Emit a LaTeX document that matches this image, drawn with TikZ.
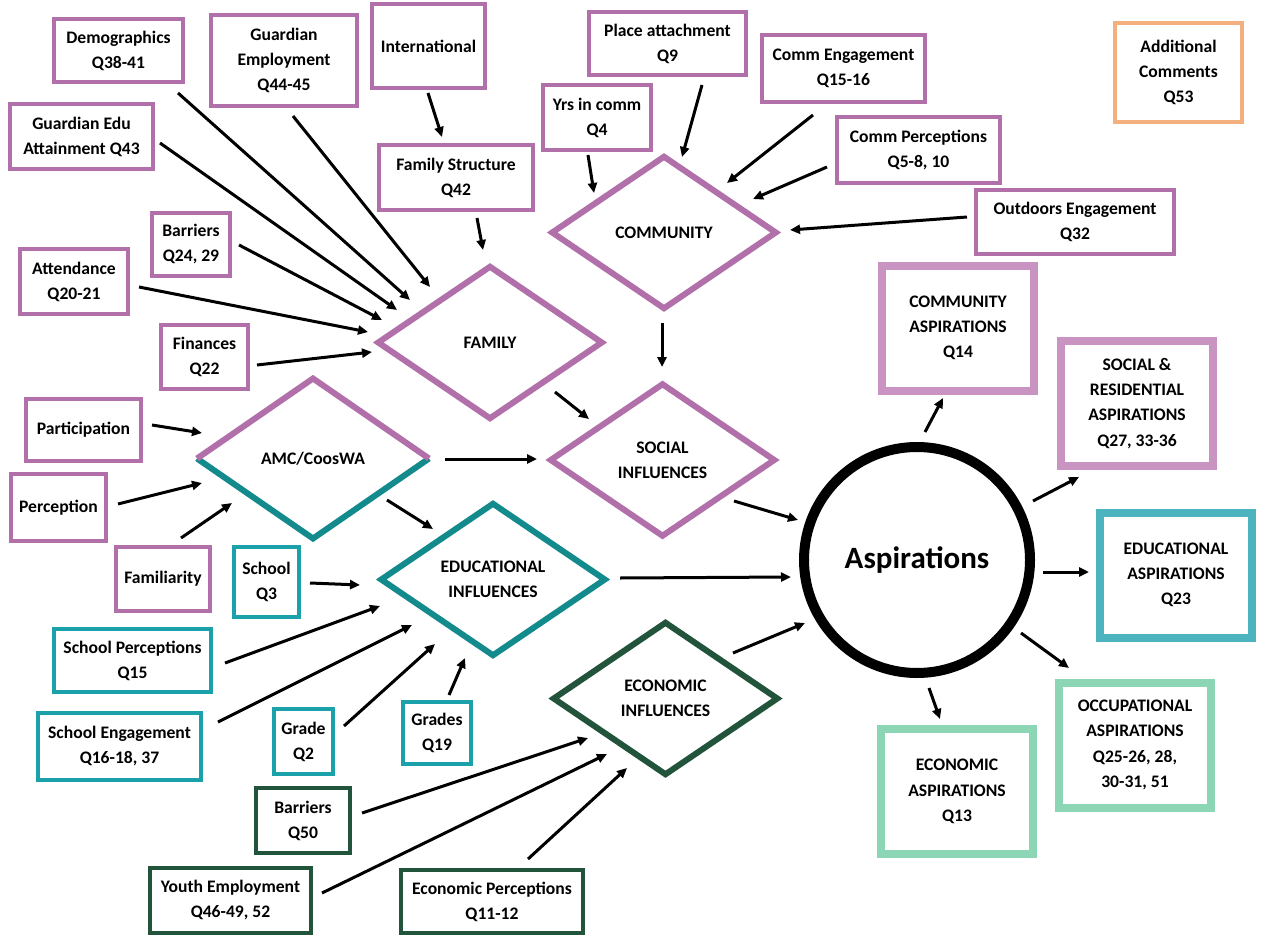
\documentclass[tikz,border=0pt]{standalone}
\usepackage{fontspec}
\setmainfont{Carlito}
\usetikzlibrary{positioning,arrows.meta,shapes.geometric}

\definecolor{plum}{HTML}{B170AA}
\definecolor{lightplum}{HTML}{C994C2}
\definecolor{tealbox}{HTML}{1BA1AA}
\definecolor{tealdmd}{HTML}{138A8C}
\definecolor{tealasp}{HTML}{4DB3BE}
\definecolor{forest}{HTML}{22543C}
\definecolor{mint}{HTML}{8CD6B6}
\definecolor{apricot}{HTML}{F4AF7E}

\begin{document}
\begin{tikzpicture}[x=0.5pt,y=-0.5pt,
  qbox/.style={rectangle,draw=#1,line width=2pt,align=center,inner sep=1pt,font=\bfseries\fontsize{8.8}{12.5}\selectfont},
  abox/.style={rectangle,draw=#1,line width=4pt,align=center,inner sep=1pt,minimum width=76pt,minimum height=62.5pt,font=\bfseries\fontsize{8.8}{12.6}\selectfont},
  dmd/.style={diamond,draw=#1,line width=3pt,align=center,inner sep=0pt,minimum width=113pt,minimum height=77pt,font=\bfseries\fontsize{8.8}{12.5}\selectfont},
  arr/.style={-{Triangle[length=5pt,width=4.5pt]},line width=1.5pt}
]
\useasboundingbox (0,0) rectangle (1262,936);

% centre
\node[circle,draw=black,line width=5pt,minimum size=113pt,font=\bfseries\fontsize{15.5}{18}\selectfont] (asp) at (917,560) {Aspirations};

% diamonds
\node[dmd=plum] (comm) at (664,232.5) {COMMUNITY};
\node[dmd=plum] (fam) at (490,342.5) {FAMILY};
\node[dmd=plum] (soc) at (662.5,460) {SOCIAL\\INFLUENCES};
\node[dmd=tealdmd] (edu) at (493,579.5) {EDUCATIONAL\\INFLUENCES};
\node[dmd=forest] (econ) at (665.5,698.5) {ECONOMIC\\INFLUENCES};
\node[dmd=none] (amc) at (313,458.5) {AMC/CoosWA};
\draw[tealdmd,line width=3pt] (amc.west) -- (amc.south) -- (amc.east);
\draw[plum,line width=3pt] (amc.west) -- (amc.north) -- (amc.east);

% family inputs
\node[qbox=plum,minimum width=64.5pt,minimum height=31.5pt] (demo) at (118.5,50.5) {Demographics\\Q38-41};
\node[qbox=plum,minimum width=73pt,minimum height=45.5pt] (gemp) at (284,60.5) {Guardian\\Employment\\Q44-45};
\node[qbox=plum,minimum width=71.5pt,minimum height=32.5pt] (gedu) at (81.5,136.5) {Guardian Edu\\Attainment Q43};
\node[qbox=plum,minimum width=39pt,minimum height=31.5pt] (barr) at (191,244.5) {Barriers\\Q24, 29};
\node[qbox=plum,minimum width=54pt,minimum height=32.5pt] (attend) at (74,281.5) {Attendance\\Q20-21};
\node[qbox=plum,minimum width=43.5pt,minimum height=32pt] (fin) at (204.5,357) {Finances\\Q22};
\node[qbox=plum,minimum width=56.5pt,minimum height=42pt] (intl) at (428.5,46) {International};
\node[qbox=plum,minimum width=77pt,minimum height=32.5pt] (fstruct) at (456,177.5) {Family Structure\\Q42};

% community inputs
\node[qbox=plum,minimum width=78.5pt,minimum height=31.5pt] (place) at (667.5,43.5) {Place attachment\\Q9};
\node[qbox=plum,minimum width=54pt,minimum height=32.5pt] (yrs) at (597,117.5) {Yrs in comm\\Q4};
\node[qbox=plum,minimum width=81.5pt,minimum height=33.5pt] (ceng) at (843.5,68.5) {Comm Engagement\\Q15-16};
\node[qbox=plum,minimum width=81.5pt,minimum height=33pt] (cperc) at (918.5,150) {Comm Perceptions\\Q5-8, 10};
\node[qbox=plum,minimum width=99pt,minimum height=32pt] (outd) at (1075,222) {Outdoors Engagement\\Q32};
\node[qbox=apricot,minimum width=63.5pt,minimum height=49.5pt] (addl) at (1178.5,72.5) {Additional\\Comments\\Q53};

% AMC inputs
\node[qbox=plum,minimum width=57.5pt,minimum height=31pt] (part) at (83.5,430) {Participation};
\node[qbox=plum,minimum width=47.5pt,minimum height=33.5pt] (perc) at (58.5,507.5) {Perception};
\node[qbox=plum,minimum width=47pt,minimum height=32pt] (famil) at (163,579) {Familiarity};

% school inputs
\node[qbox=tealbox,minimum width=32.5pt,minimum height=35pt] (school) at (266.5,582) {School\\Q3};
\node[qbox=tealbox,minimum width=78.5pt,minimum height=31.5pt] (sperc) at (132.5,660.5) {School Perceptions\\Q15};
\node[qbox=tealbox,minimum width=81.5pt,minimum height=33.5pt] (seng) at (119.5,746.5) {School Engagement\\Q16-18, 37};
\node[qbox=tealbox,minimum width=29.5pt,minimum height=32.5pt] (grade) at (303.5,741.5) {Grade\\Q2};
\node[qbox=tealbox,minimum width=34pt,minimum height=31pt] (grades) at (437,733) {Grades\\Q19};

% economic inputs
\node[qbox=forest,minimum width=47pt,minimum height=32.5pt] (barr50) at (303,820.5) {Barriers\\Q50};
\node[qbox=forest,minimum width=80.5pt,minimum height=32.5pt] (youth) at (230.5,900.5) {Youth Employment\\Q46-49, 52};
\node[qbox=forest,minimum width=91pt,minimum height=31.5pt] (eperc) at (492,901.5) {Economic Perceptions\\Q11-12};

% outcomes
\node[abox=lightplum] (casp) at (958,328) {COMMUNITY\\ASPIRATIONS\\Q14};
\node[abox=lightplum] (sasp) at (1137,403.5) {SOCIAL \&\\RESIDENTIAL\\ASPIRATIONS\\Q27, 33-36};
\node[abox=tealasp] (easp) at (1176,575) {EDUCATIONAL\\ASPIRATIONS\\Q23};
\node[abox=mint] (oasp) at (1135,745) {OCCUPATIONAL\\ASPIRATIONS\\Q25-26, 28,\\30-31, 51};
\node[abox=mint] (ecasp) at (957,791.5) {ECONOMIC\\ASPIRATIONS\\Q13};

% arrows
\draw[arr] ([shift={(59.5,42.5)}]demo.center) -- ([shift={(-80,-42.5)}]fam.center);
\draw[arr] ([shift={(9,55.5)}]gemp.center) -- ([shift={(-60,-55.5)}]fam.center);
\draw[arr] ([shift={(78.5,6.5)}]gedu.center) -- ([shift={(-93,-32.5)}]fam.center);
\draw[arr] ([shift={(48,0.5)}]barr.center) -- ([shift={(-108,-22.5)}]fam.center);
\draw[arr] ([shift={(65,5.5)}]attend.center) -- ([shift={(-122,-10.5)}]fam.center);
\draw[arr] ([shift={(52.5,8)}]fin.center) -- ([shift={(-118,9.5)}]fam.center);
\draw[arr] ([shift={(-0.5,47)}]intl.center) -- ([shift={(-14,-40.5)}]fstruct.center);
\draw[arr] ([shift={(21,40.5)}]fstruct.center) -- ([shift={(-7,-92.5)}]fam.center);
\draw[arr] ([shift={(-9,37.5)}]yrs.center) -- ([shift={(-70,-39.5)}]comm.center);
\draw[arr] ([shift={(34.5,41.5)}]place.center) -- ([shift={(18,-75.5)}]comm.center);
\draw[arr] ([shift={(-30.5,46.5)}]ceng.center) -- ([shift={(63,-49.5)}]comm.center);
\draw[arr] ([shift={(-91.5,17)}]cperc.center) -- ([shift={(89,-33.5)}]comm.center);
\draw[arr] ([shift={(-108,-5)}]outd.center) -- ([shift={(126,-2.5)}]comm.center);
\draw[arr] ([shift={(-2,90.5)}]comm.center) -- ([shift={(-0.5,-93)}]soc.center);
\draw[arr] ([shift={(65,49.5)}]fam.center) -- ([shift={(-73.5,-41)}]soc.center);
\draw[arr] ([shift={(132,0.5)}]amc.center) -- ([shift={(-125.5,-1)}]soc.center);
\draw[arr] ([shift={(74,41.5)}]amc.center) -- ([shift={(-60,-50.5)}]edu.center);
\draw[arr] ([shift={(68.5,-5)}]part.center) -- ([shift={(-111,-25.5)}]amc.center);
\draw[arr] ([shift={(59.5,-3.5)}]perc.center) -- ([shift={(-111,24.5)}]amc.center);
\draw[arr] ([shift={(18,-41)}]famil.center) -- ([shift={(-81,44.5)}]amc.center);
\draw[arr] ([shift={(43.5,1)}]school.center) -- ([shift={(-133,5.5)}]edu.center);
\draw[arr] ([shift={(92.5,2.5)}]sperc.center) -- ([shift={(-113,26.5)}]edu.center);
\draw[arr] ([shift={(98.5,-24.5)}]seng.center) -- ([shift={(-81,45.5)}]edu.center);
\draw[arr] ([shift={(40.5,-15.5)}]grade.center) -- ([shift={(-58,64.5)}]edu.center);
\draw[arr] ([shift={(12,-38)}]grades.center) -- ([shift={(-28,78.5)}]edu.center);
\draw[arr] ([shift={(59,-7.5)}]barr50.center) -- ([shift={(-77.5,39.5)}]econ.center);
\draw[arr] ([shift={(91.5,-7.5)}]youth.center) -- ([shift={(-58.5,55.5)}]econ.center);
\draw[arr] ([shift={(36,-42.5)}]eperc.center) -- ([shift={(-38.5,69.5)}]econ.center);
\draw[arr] ([shift={(71.5,41)}]soc.center) -- ([shift={(-119,-40)}]asp.center);
\draw[arr] ([shift={(127,-1.5)}]edu.center) -- ([shift={(-126,17)}]asp.center);
\draw[arr] ([shift={(67.5,-45.5)}]econ.center) -- ([shift={(-112,63)}]asp.center);
\draw[arr] ([shift={(8,-128)}]asp.center) -- ([shift={(-15,70)}]casp.center);
\draw[arr] ([shift={(116,-59)}]asp.center) -- ([shift={(-58,73.5)}]sasp.center);
\draw[arr] ([shift={(126,12)}]asp.center) -- ([shift={(-87,-3)}]easp.center);
\draw[arr] ([shift={(104,73)}]asp.center) -- ([shift={(-66,-77)}]oasp.center);
\draw[arr] ([shift={(12,128)}]asp.center) -- ([shift={(-17,-72.5)}]ecasp.center);
\end{tikzpicture}
\end{document}
